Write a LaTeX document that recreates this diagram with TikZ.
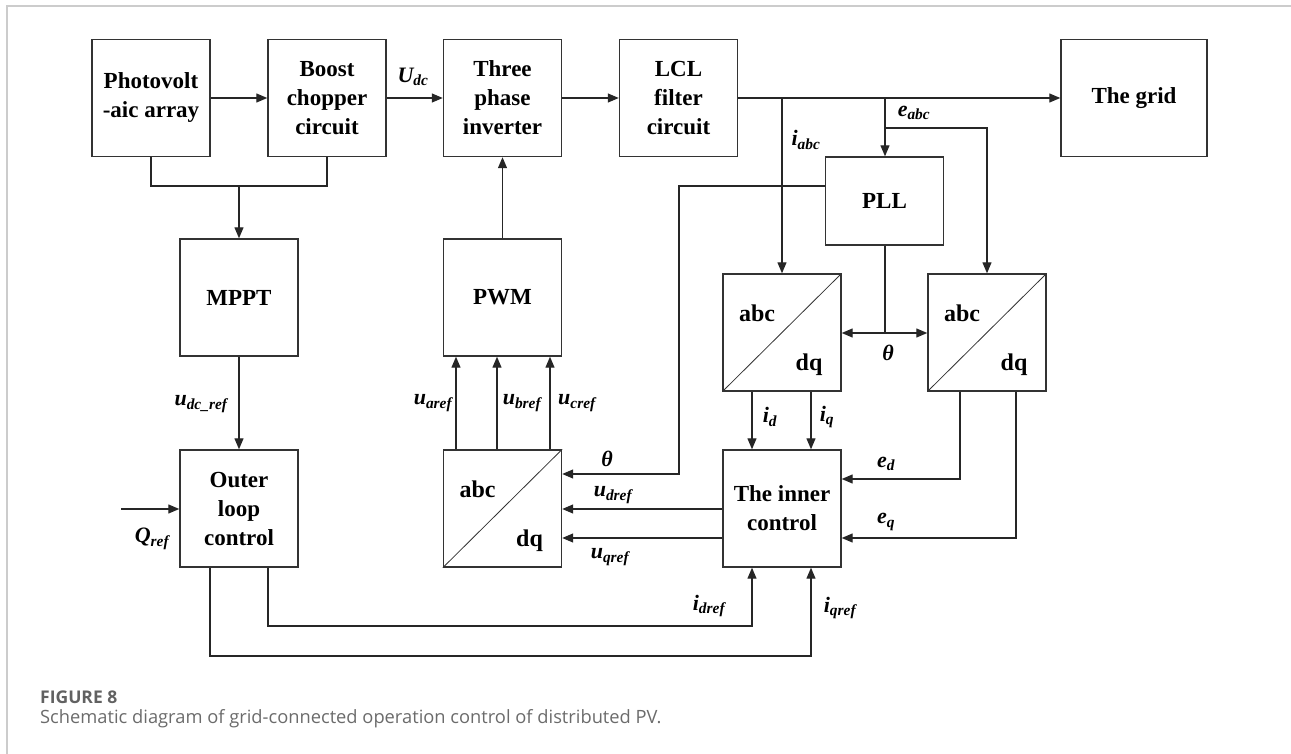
\documentclass[tikz,border=0pt]{standalone}
\usepackage{fontspec}
\setmainfont{Liberation Serif}
\setsansfont{Open Sans}
\usetikzlibrary{arrows.meta,calc}
\newcommand{\lb}[2]{\textbf{\textit{#1}}\textsubscript{\textbf{\textit{#2}}}}
\newcommand{\thet}{\textbf{\textit{θ}}}
\tikzset{
  box/.style={draw=black!80, line width=1.4pt, minimum width=118pt, minimum height=117pt, align=center, inner sep=0pt, font=\fontsize{23}{29}\selectfont\bfseries},
  wire/.style={draw=black!85, line width=1.2pt},
  arr/.style={wire, -{Triangle[length=11pt,width=9pt]}},
  darr/.style={wire, {Triangle[length=11pt,width=9pt]}-{Triangle[length=11pt,width=9pt]}},
  lab/.style={inner sep=0pt, font=\fontsize{22}{24}\selectfont\bfseries\itshape},
  tf/.style={inner sep=0pt, font=\fontsize{24}{26}\selectfont\bfseries},
  diag/.style={draw=black!80, line width=0.8pt},
}
\begin{document}
\begin{tikzpicture}[x=1pt,y=-1pt]
\useasboundingbox (0,0) rectangle (1291,754);
\draw[black!20, line width=1.2pt] (7,754) -- (7,6) -- (1291,6);

% boxes
\node[box] (pv) at (151,98) {Photovolt\\-aic array};
\node[box] (boost) at (327,98) {Boost\\chopper\\circuit};
\node[box] (inv) at (502.5,98) {Three\\phase\\inverter};
\node[box] (lcl) at (678.5,98) {LCL\\filter\\circuit};
\node[box, minimum width=146pt] (grid) at (1134,98) {The grid};
\node[box] (mppt) at (239,297.5) {MPPT};
\node[box] (pwm) at (502.5,297.5) {PWM};
\node[box, minimum height=88pt] (pll) at (884.5,201) {PLL};
\node[box] (tl) at (782,332.5) {};
\node[box] (tr) at (987,332.5) {};
\node[box] (outer) at (239,508.5) {Outer\\loop\\control};
\node[box] (tb) at (502.5,508.5) {};
\node[box] (inner) at (782,508.5) {The inner\\control};

% abc/dq converters
\foreach \b in {tl,tr,tb}{
  \draw[diag] (\b.south west) -- (\b.north east);
  \node[tf] (\b-abc) at ([xshift=-25pt,yshift=19pt]\b.center) {abc};
  \node[tf] (\b-dq) at ([xshift=27pt,yshift=-32pt]\b.center) {dq};
}

% top row
\draw[arr] (pv.east) -- (boost.west);
\draw[arr] (boost.east) -- (inv.west);
\node[lab] (udc) at (413,77) {\lb{U}{dc}};
\draw[arr] (inv.east) -- (lcl.west);
\draw[arr] (lcl.east) -- (grid.west);

% branches to abc/dq and PLL
\coordinate (bi) at (782,98);
\coordinate (be) at (885,98);
\coordinate (be2) at (885,128);
\draw[arr] (bi) -- (tl.north);
\draw[arr] (be) -- (be |- pll.north);
\draw[arr] (be2) -| (tr.north);
\node[lab] (iabc) at (806,140) {\lb{i}{abc}};
\node[lab] (eabc) at (914,113) {\lb{e}{abc}};

% PLL theta to bottom abc/dq
\coordinate (th1) at (679,186);
\coordinate (th2) at (679,474);
\draw[arr] (pll.west |- th1) -- (th1) -- (th2) -- (tb.east |- th2);
\node[lab] (thb) at (607,459) {\thet};

% PLL theta to the two abc/dq
\coordinate (pt) at (885,333);
\draw[wire] (pll.south -| pt) -- (pt);
\draw[darr] (tl.east |- pt) -- (tr.west |- pt);
\node[lab] (thm) at (888,353) {\thet};

% id, iq
\draw[arr] ([xshift=-30pt]tl.south) -- ([xshift=-30pt]inner.north);
\draw[arr] ([xshift=29pt]tl.south) -- ([xshift=29pt]inner.north);
\node[lab] (lid) at (770,417) {\lb{i}{d}};
\node[lab] (liq) at (827,417) {\lb{i}{q}};

% ed, eq
\coordinate (ed) at (960,479);
\coordinate (eq) at (1016,538);
\draw[arr] (tr.south -| ed) -- (ed) -- (inner.east |- ed);
\draw[arr] (tr.south -| eq) -- (eq) -- (inner.east |- eq);
\node[lab] (led) at (886,464) {\lb{e}{d}};
\node[lab] (leq) at (886,522) {\lb{e}{q}};

% udref, uqref
\coordinate (ud) at (700,509);
\coordinate (uq) at (700,538);
\draw[arr] (inner.west |- ud) -- (tb.east |- ud);
\draw[arr] (inner.west |- uq) -- (tb.east |- uq);
\node[lab] (lud) at (613,495) {\lb{u}{dref}};
\node[lab] (luq) at (610,557) {\lb{u}{qref}};

% PWM inputs
\coordinate (xa) at (456,0);
\coordinate (xb) at (497,0);
\coordinate (xc) at (550,0);
\draw[arr] (tb.north -| xa) -- (pwm.south -| xa);
\draw[arr] (tb.north -| xb) -- (pwm.south -| xb);
\draw[arr] (tb.north -| xc) -- (pwm.south -| xc);
\node[lab] (lua) at (433,403) {\lb{u}{aref}};
\node[lab] (lub) at (522,403) {\lb{u}{bref}};
\node[lab] (luc) at (577,403) {\lb{u}{cref}};
\draw[arr] (pwm.north) -- (inv.south);

% PV / boost to MPPT
\coordinate (j) at (239,186);
\draw[wire] (pv.south) |- (j) -| (boost.south);
\draw[arr] (j) -- (mppt.north);
\draw[arr] (mppt.south) -- (outer.north);
\node[lab] (ludc) at (201,404) {\lb{u}{dc\_ref}};

% Qref
\coordinate (qin) at (121,509);
\draw[arr] (qin) -- (outer.west |- qin);
\node[lab] (lq) at (152,539) {\lb{Q}{ref}};

% outer loop outputs
\coordinate (r1) at (268,626);
\coordinate (r2) at (210,656);
\draw[arr] (outer.south -| r1) -- (r1) -| ([xshift=-30pt]inner.south);
\draw[arr] (outer.south -| r2) -- (r2) -| ([xshift=29pt]inner.south);
\node[lab] (lidr) at (709,606) {\lb{i}{dref}};
\node[lab] (liqr) at (840,608) {\lb{i}{qref}};

% caption
\node[anchor=west, inner sep=0pt, text=black!62, font=\sffamily\bfseries\fontsize{17.5}{20}\selectfont] (fig) at (40,697) {FIGURE 8};
\node[anchor=west, inner sep=0pt, text=black!58, font=\sffamily\fontsize{18.3}{22}\selectfont] (cap) at (40,719) {Schematic diagram of grid-connected operation control of distributed PV.};
\end{tikzpicture}
\end{document}
